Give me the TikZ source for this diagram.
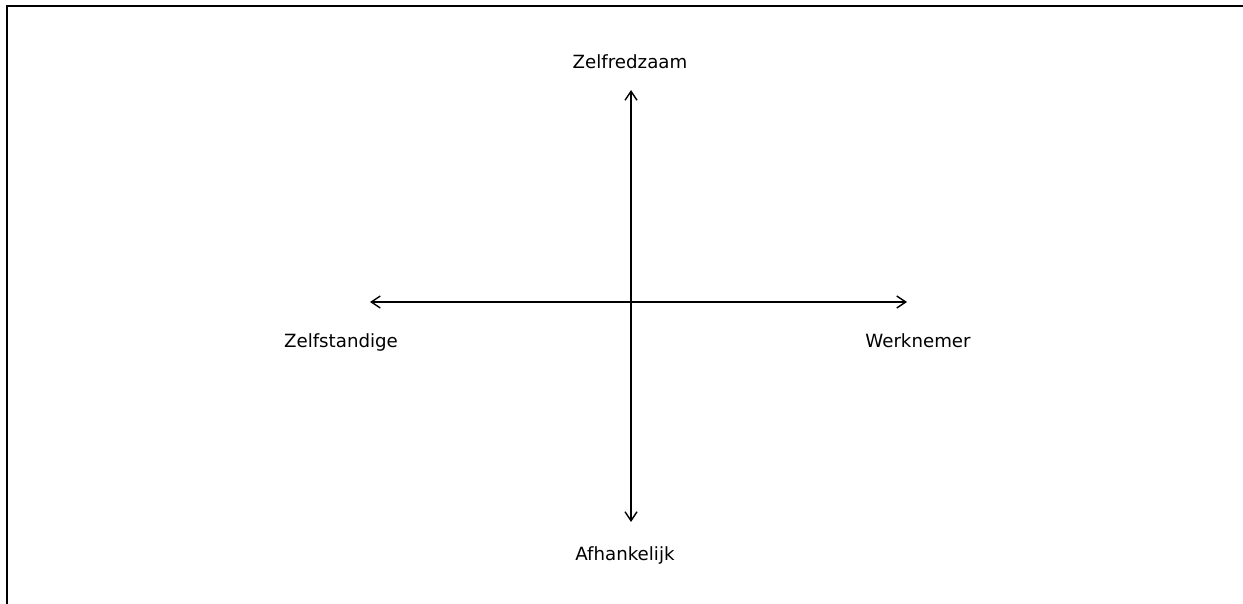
\documentclass[tikz,border=0pt]{standalone}
\usepackage{fontspec}
\setmainfont{DejaVu Sans}
\usetikzlibrary{arrows.meta}

\tikzset{
  axislabel/.style={anchor=base, inner sep=0pt, font=\fontsize{18.2}{21}\selectfont},
  axisline/.style={line width=1.4pt, {Straight Barb[length=9pt,width=12pt]}-{Straight Barb[length=9pt,width=12pt]}}
}

\begin{document}
\begin{tikzpicture}[x=1pt,y=-1pt]
\useasboundingbox (0,0) rectangle (1243,604);
\draw[line width=2.8pt] (7,604) -- (7,6) -- (1243,6);
\coordinate (top) at (631,90);
\coordinate (bottom) at (631,522);
\coordinate (left) at (370,302);
\coordinate (right) at (907,302);
\draw[axisline] (top) -- (bottom);
\draw[axisline] (left) -- (right);
\node[axislabel] (zelfredzaam) at (630,69) {Zelfredzaam};
\node[axislabel] (zelfstandige) at (341,347) {Zelfstandige};
\node[axislabel] (werknemer) at (918,347) {Werknemer};
\node[axislabel] (afhankelijk) at (625,560) {Afhankelijk};
\end{tikzpicture}
\end{document}
